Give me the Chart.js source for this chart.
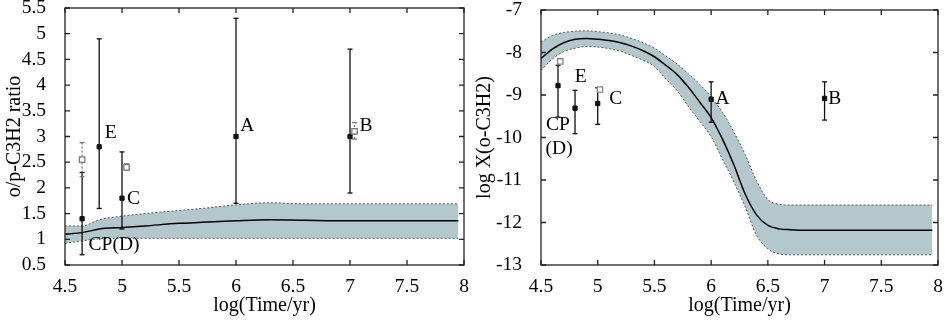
<!DOCTYPE html>
<html>
<head>
<meta charset="utf-8">
<script src="https://cdn.jsdelivr.net/npm/chart.js@4.4.0/dist/chart.umd.min.js"></script>
<style>
html, body { margin: 0; padding: 0; background: #fff; }
#wrap { position: relative; width: 945px; height: 321px; }
#left { position: absolute; left: 0; top: 0; }
#right { position: absolute; left: 470px; top: 0; }
</style>
</head>
<body>
<div id="wrap">
  <canvas id="left" width="470" height="321"></canvas>
  <canvas id="right" width="475" height="321"></canvas>
</div>
<script>
// tick values / labels
const timeTicks = [4.5, 5, 5.5, 6, 6.5, 7, 7.5, 8];
const timeTickLabels = ['4.5', '5', '5.5', '6', '6.5', '7', '7.5', '8'];
const ratioTicks = [0.5, 1, 1.5, 2, 2.5, 3, 3.5, 4, 4.5, 5, 5.5];
const ratioTickLabels = ['0.5', '1', '1.5', '2', '2.5', '3', '3.5', '4', '4.5', '5', '5.5'];
const abunTicks = [-13, -12, -11, -10, -9, -8, -7];
const abunTickLabels = ['-13', '-12', '-11', '-10', '-9', '-8', '-7'];

// model o/p ratio (band + median)
const ratioBandX = [4.5, 4.65, 4.8, 5.0, 5.2, 5.5, 5.7, 6.0, 6.3, 6.6, 7.0, 7.5, 7.95];
const ratioUpper = [1.26, 1.26, 1.38, 1.45, 1.50, 1.56, 1.60, 1.67, 1.71, 1.69, 1.69, 1.69, 1.69];
const ratioMid   = [1.10, 1.13, 1.20, 1.23, 1.26, 1.31, 1.33, 1.36, 1.38, 1.37, 1.36, 1.36, 1.36];
const ratioLower = [0.92, 0.97, 1.01, 1.02, 1.02, 1.02, 1.02, 1.02, 1.02, 1.02, 1.02, 1.02, 1.02];

// model o-C3H2 abundance
const abunBandX = [4.5, 4.6, 4.7, 4.8, 4.9, 5.0, 5.1, 5.2, 5.3, 5.4, 5.5, 5.6, 5.7, 5.8, 5.9, 6.0, 6.1, 6.2, 6.3, 6.4, 6.5, 6.6, 6.7, 6.8, 7.95];
const abunUpper = [-7.75, -7.60, -7.53, -7.50, -7.49, -7.51, -7.54, -7.59, -7.67, -7.77, -7.90, -8.08, -8.27, -8.50, -8.75, -9.05, -9.41, -9.87, -10.40, -11.02, -11.46, -11.57, -11.59, -11.59, -11.59];
const abunMid   = [-8.14, -7.92, -7.77, -7.69, -7.67, -7.69, -7.72, -7.77, -7.85, -7.96, -8.10, -8.30, -8.52, -8.82, -9.17, -9.53, -10.04, -10.64, -11.33, -11.82, -12.07, -12.15, -12.17, -12.18, -12.18];
const abunLower = [-8.42, -8.15, -7.98, -7.90, -7.86, -7.87, -7.91, -7.97, -8.07, -8.18, -8.33, -8.62, -8.90, -9.27, -9.62, -9.98, -10.51, -11.04, -11.63, -12.30, -12.62, -12.74, -12.76, -12.76, -12.76];

// observed sources
const sources = ['CP(D)', 'E', 'C', 'A', 'B'];
const srcTime = [4.65, 4.8, 5.0, 6.0, 7.0];
const ratioVal = [1.4, 2.8, 1.8, 3.0, 3.0];
const ratioLo  = [0.7, 1.6, 1.2, 1.7, 1.9];
const ratioHi  = [2.3, 4.9, 2.7, 5.3, 4.7];
const ratio2Time = [4.65, 5.04, 7.04];
const ratio2Val  = [2.55, 2.40, 3.10];
const ratio2Lo   = [2.22, 2.35, 2.95];
const ratio2Hi   = [2.88, 2.47, 3.27];
const abunVal = [-8.78, -9.31, -9.20, -9.10, -9.08];
const abunLo  = [-9.52, -9.91, -9.69, -9.64, -9.59];
const abunHi  = [-8.30, -8.89, -8.83, -8.69, -8.69];
const abun2Time = [4.67, 5.02];
const abun2Val  = [-8.21, -8.87];

// source name labels
const ratioLabelText = ['E', 'C', 'CP(D)', 'A', 'B'];
const ratioLabelX = [4.90, 5.10, 4.93, 6.10, 7.14];
const ratioLabelY = [3.08, 1.78, 0.89, 3.21, 3.21];
const abunLabelText = ['E', 'C', 'CP', '(D)', 'A', 'B'];
const abunLabelX = [4.85, 5.16, 4.65, 4.66, 6.10, 7.09];
const abunLabelY = [-8.57, -9.10, -9.71, -10.27, -9.08, -9.08];

const serif = '"Liberation Serif", "DejaVu Serif", serif';
const tickFont = { family: serif, size: 19.5 };
const titleFont = { family: serif, size: 20 };

function pts(xs, ys) {
  return xs.map((x, i) => ({ x: x, y: ys[i] }));
}

// higher order = drawn earlier (underneath)
function bandSets(xs, up, mid, lo) {
  return [
    { data: pts(xs, up), showLine: true, borderColor: '#555', borderWidth: 1, borderDash: [2, 2], order: 4,
      backgroundColor: '#b3c7cd', fill: '+1', pointRadius: 0, cubicInterpolationMode: 'monotone' },
    { data: pts(xs, lo), showLine: true, borderColor: '#555', borderWidth: 1, borderDash: [2, 2], order: 3,
      fill: false, pointRadius: 0, cubicInterpolationMode: 'monotone' },
    { data: pts(xs, mid), showLine: true, borderColor: '#000', borderWidth: 1.5, order: 2,
      fill: false, pointRadius: 0, cubicInterpolationMode: 'monotone' }
  ];
}

function errSets(xs, v, lo, hi, col, dash, filled) {
  let out = [];
  xs.forEach((x, i) => {
    if (lo && hi) {
      out.push({ data: [{ x: x, y: lo[i] }, { x: x, y: hi[i] }], showLine: true, borderColor: col,
        borderWidth: 1.3, borderDash: dash, pointStyle: 'line', pointRadius: 2.5, order: 1,
        pointBorderColor: col, pointBorderWidth: 1.3 });
    }
  });
  out.push({ data: pts(xs, v), showLine: false, pointStyle: 'rect', pointRadius: filled ? 3 : 3.8, order: 0,
    pointBackgroundColor: filled ? col : '#fff', pointBorderColor: col, pointBorderWidth: filled ? 1 : 1.3 });
  return out;
}

const framePlugin = {
  id: 'frame',
  afterDatasetsDraw(chart, args, opts) {
    const ctx = chart.ctx;
    const a = chart.chartArea;
    const x = chart.scales.x, y = chart.scales.y;
    ctx.save();
    ctx.strokeStyle = '#222';
    ctx.lineWidth = 1.3;
    ctx.setLineDash([]);
    ctx.strokeRect(a.left, a.top, a.right - a.left, a.bottom - a.top);
    ctx.beginPath();
    x.ticks.forEach(t => {
      let px = x.getPixelForValue(t.value);
      ctx.moveTo(px, a.bottom); ctx.lineTo(px, a.bottom - 5);
      ctx.moveTo(px, a.top); ctx.lineTo(px, a.top + 5);
    });
    y.ticks.forEach(t => {
      let py = y.getPixelForValue(t.value);
      ctx.moveTo(a.left, py); ctx.lineTo(a.left + 5, py);
      ctx.moveTo(a.right, py); ctx.lineTo(a.right - 5, py);
    });
    ctx.stroke();
    ctx.font = '19.5px ' + serif;
    ctx.fillStyle = '#000';
    ctx.textAlign = 'center';
    ctx.textBaseline = 'middle';
    opts.text.forEach((s, i) => {
      ctx.fillText(s, x.getPixelForValue(opts.tx[i]), y.getPixelForValue(opts.ty[i]));
    });
    ctx.restore();
  }
};

function makeScales(yMin, yMax, yTicks, yLabels, yTitle, yWidth, yTitlePad) {
  return {
    x: {
      type: 'linear', min: 4.5, max: 8,
      afterBuildTicks: s => { s.ticks = timeTicks.map(v => ({ value: v })); },
      ticks: { callback: v => timeTickLabels[timeTicks.indexOf(v)], font: tickFont, color: '#000',
        padding: 2, maxRotation: 0, autoSkip: false },
      grid: { display: false }, border: { display: false },
      title: { display: true, text: 'log(Time/yr)', font: titleFont, color: '#000', padding: { top: 0, bottom: 3 } },
      afterFit: s => { s.height = 56; s.paddingLeft = 0; s.paddingRight = 0; }
    },
    y: {
      type: 'linear', min: yMin, max: yMax,
      afterBuildTicks: s => { s.ticks = yTicks.map(v => ({ value: v })); },
      ticks: { callback: v => yLabels[yTicks.indexOf(v)], font: tickFont, color: '#000',
        padding: 11, autoSkip: false },
      grid: { display: false }, border: { display: false },
      title: { display: true, text: yTitle, font: titleFont, color: '#000', padding: { top: yTitlePad, bottom: 0 } },
      afterFit: s => { s.width = yWidth; s.paddingTop = 0; s.paddingBottom = 0; }
    }
  };
}

new Chart(document.getElementById('left'), {
  type: 'scatter',
  data: {
    datasets: [].concat(
      bandSets(ratioBandX, ratioUpper, ratioMid, ratioLower),
      errSets(ratio2Time, ratio2Val, ratio2Lo, ratio2Hi, '#777', [2, 2], false),
      errSets(srcTime, ratioVal, ratioLo, ratioHi, '#111', [], true)
    )
  },
  options: {
    responsive: false, animation: false, devicePixelRatio: 1,
    layout: { padding: { top: 8, right: 6, left: 0, bottom: 0 } },
    plugins: { legend: { display: false }, tooltip: { enabled: false },
      frame: { text: ratioLabelText, tx: ratioLabelX, ty: ratioLabelY } },
    scales: makeScales(0.5, 5.5, ratioTicks, ratioTickLabels, 'o/p-C3H2 ratio', 65, 2.5)
  },
  plugins: [framePlugin]
});

new Chart(document.getElementById('right'), {
  type: 'scatter',
  data: {
    datasets: [].concat(
      bandSets(abunBandX, abunUpper, abunMid, abunLower),
      errSets(abun2Time, abun2Val, null, null, '#888', [], false),
      errSets(srcTime, abunVal, abunLo, abunHi, '#111', [], true)
    )
  },
  options: {
    responsive: false, animation: false, devicePixelRatio: 1,
    layout: { padding: { top: 10, right: 7, left: 0, bottom: 0 } },
    plugins: { legend: { display: false }, tooltip: { enabled: false },
      frame: { text: abunLabelText, tx: abunLabelX, ty: abunLabelY } },
    scales: makeScales(-13, -7, abunTicks, abunTickLabels, 'log X(o-C3H2)', 71, 3)
  },
  plugins: [framePlugin]
});
</script>
</body>
</html>
